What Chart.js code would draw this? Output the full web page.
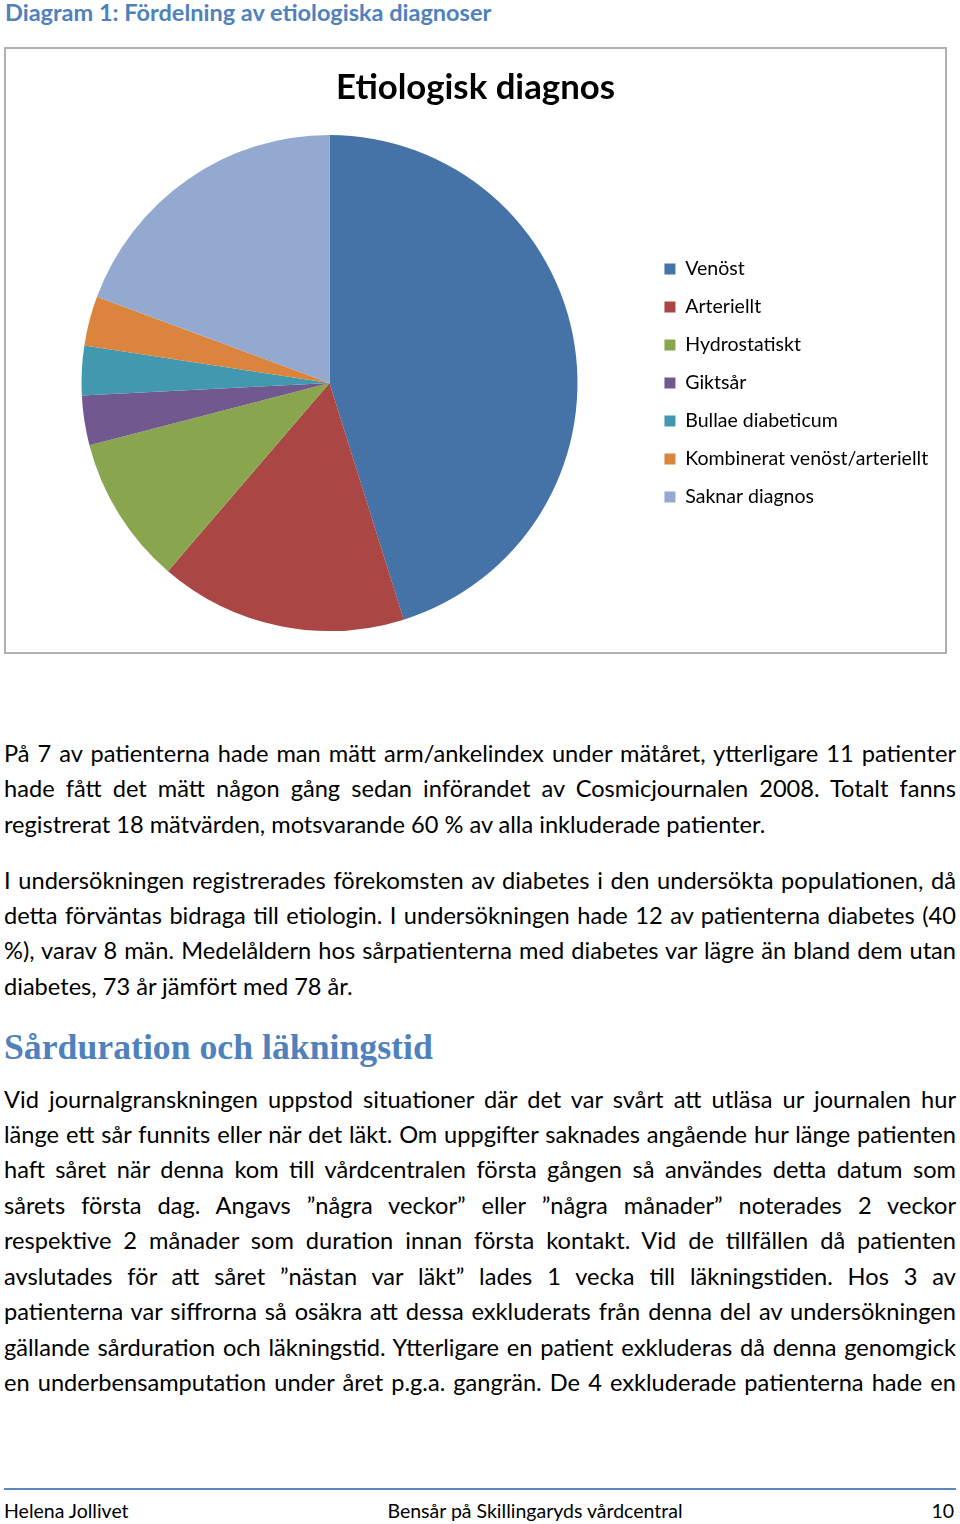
<!DOCTYPE html>
<html><head><meta charset="utf-8">
<script src="https://cdn.jsdelivr.net/npm/chart.js@4.4.1/dist/chart.umd.min.js"></script>
<style>
html,body{margin:0;padding:0;background:#fff;width:960px;height:1524px;overflow:hidden;}
body{position:relative;color:#000;font-family:Lato,"Open Sans",sans-serif;}
.ln{position:absolute;white-space:nowrap;line-height:1.2;}
#box{position:absolute;left:4px;top:47px;width:943px;height:607px;box-sizing:border-box;border:2px solid #b0b0b0;}
#chart{position:absolute;left:0;top:0;width:939px;height:603px;}
#rule{position:absolute;left:4px;top:1488px;width:952px;height:2px;background:#5b88c0;}
</style></head><body>
<div id="box"><canvas id="chart" width="939" height="603"></canvas></div>
<div id="rule"></div>
<script>
// ---- chart data ----
const categories = ['Venöst','Arteriellt','Hydrostatiskt','Giktsår','Bullae diabeticum','Kombinerat venöst/arteriellt','Saknar diagnos'];
const patientCounts = [14, 5, 3, 1, 1, 1, 6];
const sliceColors = ['#4572a7','#aa4643','#89a54e','#71588f','#4198af','#db843d','#93a9cf'];
const chartTitle = 'Etiologisk diagnos';

// ---- page text ----
const pageTitle = 'Diagram 1: Fördelning av etiologiska diagnoser';
const para1 = [
  'På 7 av patienterna hade man mätt arm/ankelindex under mätåret, ytterligare 11 patienter',
  'hade fått det mätt någon gång sedan införandet av Cosmicjournalen 2008. Totalt fanns',
  'registrerat 18 mätvärden, motsvarande 60 % av alla inkluderade patienter.'
];
const para2 = [
  'I undersökningen registrerades förekomsten av diabetes i den undersökta populationen, då',
  'detta förväntas bidraga till etiologin. I undersökningen hade 12 av patienterna diabetes (40',
  '%), varav 8 män. Medelåldern hos sårpatienterna med diabetes var lägre än bland dem utan',
  'diabetes, 73 år jämfört med 78 år.'
];
const heading = 'Sårduration och läkningstid';
const para3 = [
  'Vid journalgranskningen uppstod situationer där det var svårt att utläsa ur journalen hur',
  'länge ett sår funnits eller när det läkt. Om uppgifter saknades angående hur länge patienten',
  'haft såret när denna kom till vårdcentralen första gången så användes detta datum som',
  'sårets första dag. Angavs ”några veckor” eller ”några månader” noterades 2 veckor',
  'respektive 2 månader som duration innan första kontakt. Vid de tillfällen då patienten',
  'avslutades för att såret ”nästan var läkt” lades 1 vecka till läkningstiden. Hos 3 av',
  'patienterna var siffrorna så osäkra att dessa exkluderats från denna del av undersökningen',
  'gällande sårduration och läkningstid. Ytterligare en patient exkluderas då denna genomgick',
  'en underbensamputation under året p.g.a. gangrän. De 4 exkluderade patienterna hade en'
];
const footerLeft = 'Helena Jollivet';
const footerCenter = 'Bensår på Skillingaryds vårdcentral';
const footerRight = '10';

const mctx = document.createElement('canvas').getContext('2d');
function fitSize(text, weight, family, target){
  mctx.font = weight + ' 100px ' + family;
  return 100 * target / mctx.measureText(text).width;
}
function measure(text, weight, size, family){
  mctx.font = weight + ' ' + size + 'px ' + family;
  return mctx.measureText(text).width;
}

function placeLine(txt, o){
  const d = document.createElement('div');
  d.className = 'ln';
  d.style.fontFamily = o.family;
  d.style.fontWeight = o.weight;
  d.style.fontSize = o.size + 'px';
  d.style.color = o.color || '#000';
  d.textContent = txt;
  const m = document.createElement('span');
  m.style.cssText = 'display:inline-block;width:0;height:0;vertical-align:baseline;';
  d.appendChild(m);
  d.style.left = '0px'; d.style.top = '0px';
  document.body.appendChild(d);
  let w = d.getBoundingClientRect().width;
  if (o.justify){
    const spaces = (txt.match(/ /g) || []).length;
    if (spaces) { d.style.wordSpacing = ((o.width - w) / spaces) + 'px'; }
    w = o.width;
  }
  let left = o.left;
  if (o.align === 'center') left = o.center - w/2;
  if (o.align === 'right') left = o.right - w;
  const off = m.getBoundingClientRect().top - d.getBoundingClientRect().top;
  d.style.left = left + 'px';
  d.style.top = (o.baseline - off) + 'px';
}

const SANS = 'Lato';
const bodySize = fitSize(para1[2], 'normal', SANS, 762);

placeLine(pageTitle, {family:SANS, weight:'bold', size:fitSize(pageTitle,'bold',SANS,487), color:'#4f81bd', left:5, baseline:21});

function para(lines, firstBase, lastJustified){
  lines.forEach((t,i)=>{
    const isLast = i === lines.length-1;
    placeLine(t, {family:SANS, weight:'normal', size:bodySize, left:4, width:952,
      justify: !isLast || lastJustified, baseline: firstBase + i*35.45});
  });
}
para(para1, 762, false);
para(para2, 888.5, false);
const SERIF = '"Liberation Serif"';
placeLine(heading, {family:SERIF, weight:'bold', size:fitSize(heading,'bold',SERIF,429), color:'#4f81bd', left:4, baseline:1059});
para(para3, 1107.5, true);

const fSize = fitSize(footerCenter, 'normal', SANS, 296);
placeLine(footerLeft, {family:SANS, weight:'normal', size:fSize, left:4, baseline:1518});
placeLine(footerCenter, {family:SANS, weight:'normal', size:fSize, align:'center', center:535, baseline:1518});
placeLine(footerRight, {family:SANS, weight:'normal', size:fSize, align:'right', right:954, baseline:1518});

// ---- chart ----
const titleSize = fitSize(chartTitle, 'bold', SANS, 279);
const legendSize = fitSize(categories[5], 'normal', SANS, 243);
const boxW = 11;
const legendPad = 38 - Math.max(legendSize, boxW);
const legendW = legendPad + boxW + legendSize/2 + measure(categories[5],'normal',legendSize,SANS) + 10;
const padR = 299 - legendW;

new Chart(document.getElementById('chart'), {
  type: 'pie',
  data: {
    labels: categories,
    datasets: [{ data: patientCounts, backgroundColor: sliceColors, borderWidth: 0 }]
  },
  options: {
    responsive: false,
    animation: false,
    layout: { padding: { left: 7, right: padR, top: 0, bottom: 21 } },
    plugins: {
      title: {
        display: true, text: chartTitle, color: '#000',
        font: { family: SANS, weight: 'bold', size: titleSize, lineHeight: 1.2 },
        padding: { top: 39 - 0.6*titleSize, bottom: 47 - 0.6*titleSize }
      },
      legend: {
        position: 'right', align: 'center', fullSize: false,
        labels: { boxWidth: boxW, boxHeight: boxW, padding: legendPad, color: '#000',
          font: { family: SANS, size: legendSize } }
      },
      tooltip: { enabled: false }
    }
  }
});
</script>
</body></html>
